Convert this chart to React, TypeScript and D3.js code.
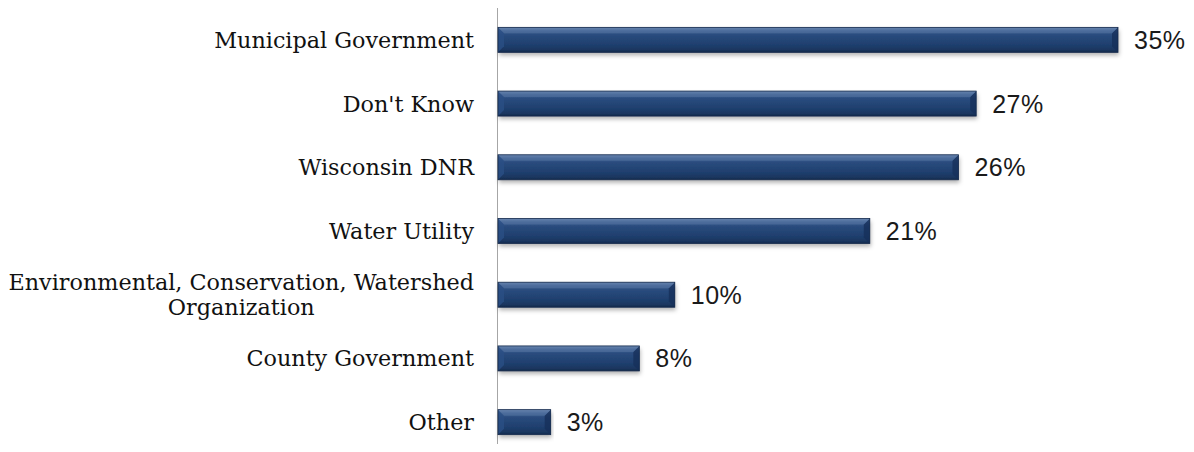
import React, { useEffect, useRef } from "react";
import * as d3 from "d3";

const categories: string[][] = [
  ["Municipal Government"],
  ["Don't Know"],
  ["Wisconsin DNR"],
  ["Water Utility"],
  ["Environmental, Conservation, Watershed", "Organization"],
  ["County Government"],
  ["Other"],
];
const values: number[] = [35, 27, 26, 21, 10, 8, 3];

const W = 1194;
const H = 452;

export default function App() {
  const ref = useRef<SVGSVGElement>(null);
  useEffect(() => {
    const svg = d3.select(ref.current!);
    svg.selectAll("*").remove();
    const axisX = 497.5;
    const x = d3.scaleLinear().domain([0, 35]).range([axisX, 1118]);
    const y = d3
      .scaleBand<number>()
      .domain(values.map((_, i) => i))
      .range([8, 454])
      .paddingInner(0)
      .paddingOuter(0);
    const barH = 25;

    const defs = svg.append("defs");
    const g = defs
      .append("linearGradient")
      .attr("id", "barGrad")
      .attr("x1", 0)
      .attr("y1", 0)
      .attr("x2", 0)
      .attr("y2", 1);
    [
      [0, "#7490b8"],
      [0.14, "#3f6194"],
      [0.3, "#2a4c7e"],
      [0.7, "#1f3f6e"],
      [0.9, "#1a365f"],
      [1, "#15294a"],
    ].forEach(([o, c]) => g.append("stop").attr("offset", o as number).attr("stop-color", c as string));
    const f = defs.append("filter").attr("id", "shadow").attr("x", "-5%").attr("y", "-30%").attr("width", "110%").attr("height", "180%");
    f.append("feDropShadow").attr("dx", 1).attr("dy", 3).attr("stdDeviation", 2).attr("flood-color", "#000").attr("flood-opacity", 0.3);

    svg
      .append("line")
      .attr("x1", axisX)
      .attr("x2", axisX)
      .attr("y1", 8)
      .attr("y2", H)
      .attr("stroke", "#a6a6a6")
      .attr("stroke-width", 1);

    const bars = svg.append("g");
    values.forEach((v, i) => {
      const cy = y(i)! + y.bandwidth() / 2;
      const y0 = cy - barH / 2;
      const x0 = x(0) + 0.5;
      const x1 = x(v);
      const bg = bars.append("g");
      bg.append("rect")
        .attr("x", x0)
        .attr("y", y0)
        .attr("width", x1 - x0)
        .attr("height", barH)
        .attr("fill", "url(#barGrad)")
        .attr("filter", "url(#shadow)");
      const b = 6;
      bg.append("polygon")
        .attr("points", `${x0},${y0} ${x0 + b},${y0 + b} ${x0 + b},${y0 + barH - b} ${x0},${y0 + barH}`)
        .attr("fill", "#2b4f85")
        .attr("opacity", 0.8);
      bg.append("polygon")
        .attr("points", `${x1},${y0} ${x1 - b},${y0 + b} ${x1 - b},${y0 + barH - b} ${x1},${y0 + barH}`)
        .attr("fill", "#16305a")
        .attr("opacity", 0.8);
      bg.append("polygon")
        .attr("points", `${x0},${y0} ${x1},${y0} ${x1 - b},${y0 + b} ${x0 + b},${y0 + b}`)
        .attr("fill", "#5a78a4")
        .attr("opacity", 0.5);
      bg.append("rect")
        .attr("x", x0)
        .attr("y", y0)
        .attr("width", x1 - x0)
        .attr("height", barH)
        .attr("fill", "none")
        .attr("stroke", "#142a4c")
        .attr("stroke-width", 0.8);

      svg
        .append("text")
        .attr("x", x1 + 16)
        .attr("y", cy)
        .attr("dy", "0.36em")
        .attr("font-family", "'Liberation Sans', Arial, sans-serif")
        .attr("font-size", 25)
        .attr("letter-spacing", 0.5)
        .attr("fill", "#1a1a1a")
        .text(`${v}%`);

      const lines = categories[i];
      const lh = 25;
      const t = svg
        .append("text")
        .attr("font-family", "'DejaVu Serif', serif")
        .attr("font-size", 22.3)
        .attr("fill", "#111");
      if (lines.length === 1) {
        t.attr("x", 474).attr("y", cy).attr("dy", "0.36em").attr("text-anchor", "end").text(lines[0]);
      } else {
        const tmp = t.append("tspan").text(lines[0]);
        const w = (tmp.node() as SVGTSpanElement).getComputedTextLength();
        tmp.remove();
        const cx = 474 - w / 2;
        lines.forEach((ln, k) => {
          t.append("tspan")
            .attr("x", cx)
            .attr("y", cy + (k - (lines.length - 1) / 2) * lh)
            .attr("dy", "0.36em")
            .attr("text-anchor", "middle")
            .text(ln);
        });
      }
    });
  }, []);
  return <svg ref={ref} width={W} height={H} style={{ display: "block", margin: "-8px" }} />;
}
